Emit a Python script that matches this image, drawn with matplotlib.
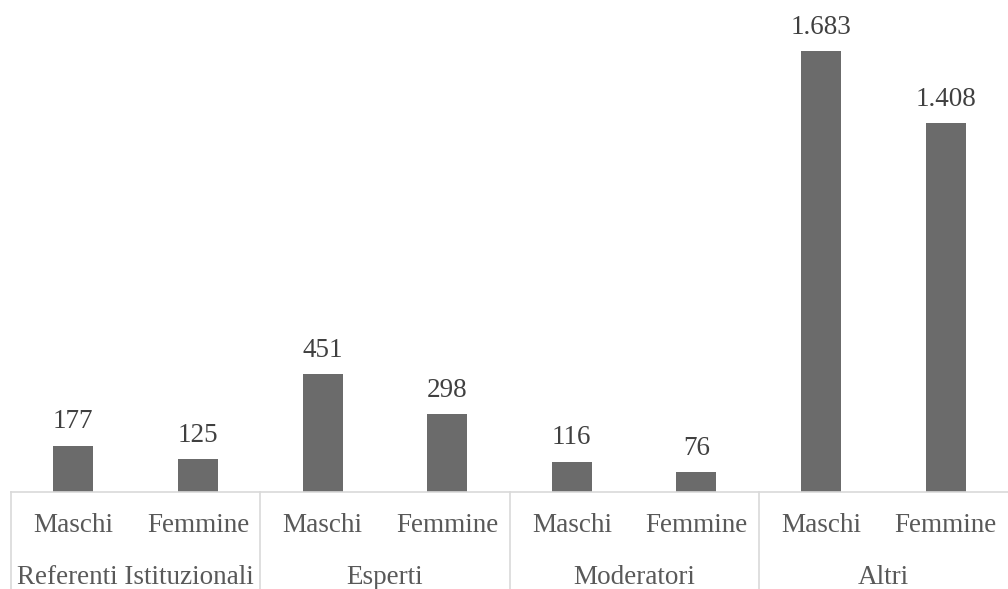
import matplotlib

matplotlib.use("Agg")
import matplotlib.pyplot as plt
from matplotlib.transforms import blended_transform_factory

groups = ["Referenti Istituzionali", "Esperti", "Moderatori", "Altri"]
sexes = ["Maschi", "Femmine"]
values = [177, 125, 451, 298, 116, 76, 1683, 1408]
value_labels = ["177", "125", "451", "298", "116", "76", "1.683", "1.408"]

W, H = 1008, 589
fig = plt.figure(figsize=(W / 100, H / 100), dpi=100)
ax = fig.add_axes([11 / W, 1 - 492 / H, 997 / W, 472 / H])

plt.rcParams["font.family"] = ["Liberation Serif", "DejaVu Serif"]
fs = 19.5

xs = list(range(len(values)))
ax.bar(xs, values, width=0.32, color="#6b6b6b")
for x, v, lab in zip(xs, values, value_labels):
    ax.annotate(lab, (x, v), xytext=(0, 8), textcoords="offset points",
                ha="center", va="bottom", fontsize=fs, color="#404040",
                family=["Liberation Serif"])

ax.set_xlim(-0.5, len(values) - 0.5)
ax.set_ylim(0, 1800)
for s in ["top", "right", "left"]:
    ax.spines[s].set_visible(False)
ax.spines["bottom"].set_color("#d9d9d9")
ax.spines["bottom"].set_linewidth(1.2)
ax.set_yticks([])
ax.set_xticks([])

tr = blended_transform_factory(ax.transData, ax.transAxes)
axh = 472
for i, x in enumerate(xs):
    ax.text(x, -33 / axh, sexes[i % 2], transform=tr, ha="center", va="center",
            fontsize=fs, color="#595959", family=["Liberation Serif"])
for g, name in enumerate(groups):
    ax.text(2 * g + 0.5, -85 / axh, name, transform=tr, ha="center", va="center",
            fontsize=fs, color="#595959", family=["Liberation Serif"])
for g in range(len(groups)):
    ax.plot([2 * g - 0.5, 2 * g - 0.5], [0, -100 / axh], transform=tr,
            color="#d9d9d9", linewidth=1.2, clip_on=False)

fig.savefig("out.png", dpi=100)
